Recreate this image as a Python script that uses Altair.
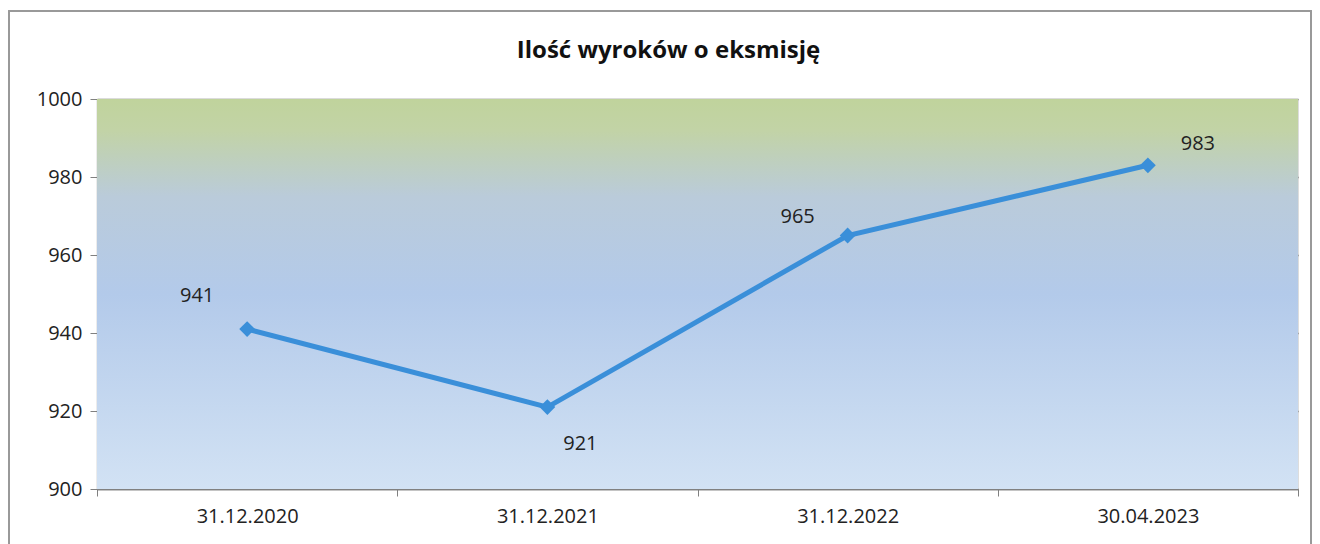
import altair as alt
import pandas as pd

# ---- data ----
dates = ["31.12.2020", "31.12.2021", "31.12.2022", "30.04.2023"]
values = [941, 921, 965, 983]
y_ticks = [900, 920, 940, 960, 980, 1000]
title_text = "Ilość wyroków o eksmisję"

# ---- style ----
W, H = 1201, 390
FONT = "Open Sans"
LINE_COLOR = "#3a8fd9"
label_dx = [-50, 33, -50, 50]
label_dy = [-33, 37, -19, -21]

df = pd.DataFrame({"date": dates, "value": values, "idx": list(range(len(dates)))})

x_enc = alt.X("date:N", sort=dates, title=None,
              scale=alt.Scale(paddingInner=0, paddingOuter=0),
              axis=alt.Axis(labelAngle=0, labelFont=FONT, labelFontSize=20, labelColor="#222",
                            labelPadding=10, tickBand="extent", tickSize=7, tickColor="#808080",
                            domainColor="#808080", domainWidth=1.3, grid=False))
y_enc = alt.Y("value:Q", title=None,
              scale=alt.Scale(domain=[900, 1000], nice=False, zero=False),
              axis=alt.Axis(values=y_ticks, format="d", labelFont=FONT, labelFontSize=20,
                            labelColor="#222", labelPadding=8, tickSize=7, tickColor="#808080",
                            domainColor="#808080", domainWidth=1.3, gridColor="#707070",
                            gridWidth=1.4))
x_plain = alt.X("date:N", sort=dates)
y_plain = alt.Y("value:Q")

gradient = alt.Gradient(
    gradient="linear", x1=0, x2=0, y1=0, y2=1,
    stops=[alt.GradientStop(offset=0, color="#c0d39c"),
           alt.GradientStop(offset=0.08, color="#c2d3a6"),
           alt.GradientStop(offset=0.25, color="#bacbda"),
           alt.GradientStop(offset=0.5, color="#b3caea"),
           alt.GradientStop(offset=1, color="#d2e2f4")])

bg = alt.Chart(df).mark_rect(fill=gradient).encode(
    x=alt.value(0), x2=alt.value(W), y=alt.value(0), y2=alt.value(H))

frame = alt.Chart(df).mark_rect(fill=None, stroke="#999", strokeWidth=1.5).encode(
    x=alt.value(-88), x2=alt.value(W + 13), y=alt.value(-88), y2=alt.value(H + 80))

title = alt.Chart(pd.DataFrame({"t": [title_text]})).mark_text(
    font=FONT, fontSize=24, fontWeight="bold", color="#111", baseline="alphabetic", align="center"
).encode(x=alt.value(W / 2 - 29), y=alt.value(-41), text="t:N")

base = alt.Chart(df)
line = base.mark_line(color=LINE_COLOR, strokeWidth=5).encode(x=x_enc, y=y_enc)
pts = base.mark_point(shape="diamond", filled=True, size=250, color=LINE_COLOR, opacity=1).encode(
    x=x_plain, y=y_plain)

labels = []
for i in range(len(dates)):
    labels.append(
        base.transform_filter(alt.datum.idx == i).mark_text(
            font=FONT, fontSize=20, color="#222", dx=label_dx[i], dy=label_dy[i]
        ).encode(x=x_plain, y=y_plain, text="value:Q"))

chart = alt.layer(frame, bg, title, line, pts, *labels).properties(
    width=W, height=H,
    autosize="none",
    padding={"left": 89, "top": 91, "right": 14, "bottom": 55},
).configure_view(stroke=None).configure(background="#ffffff")

chart.save("out.html", embed_options={"renderer": "svg", "actions": False})
